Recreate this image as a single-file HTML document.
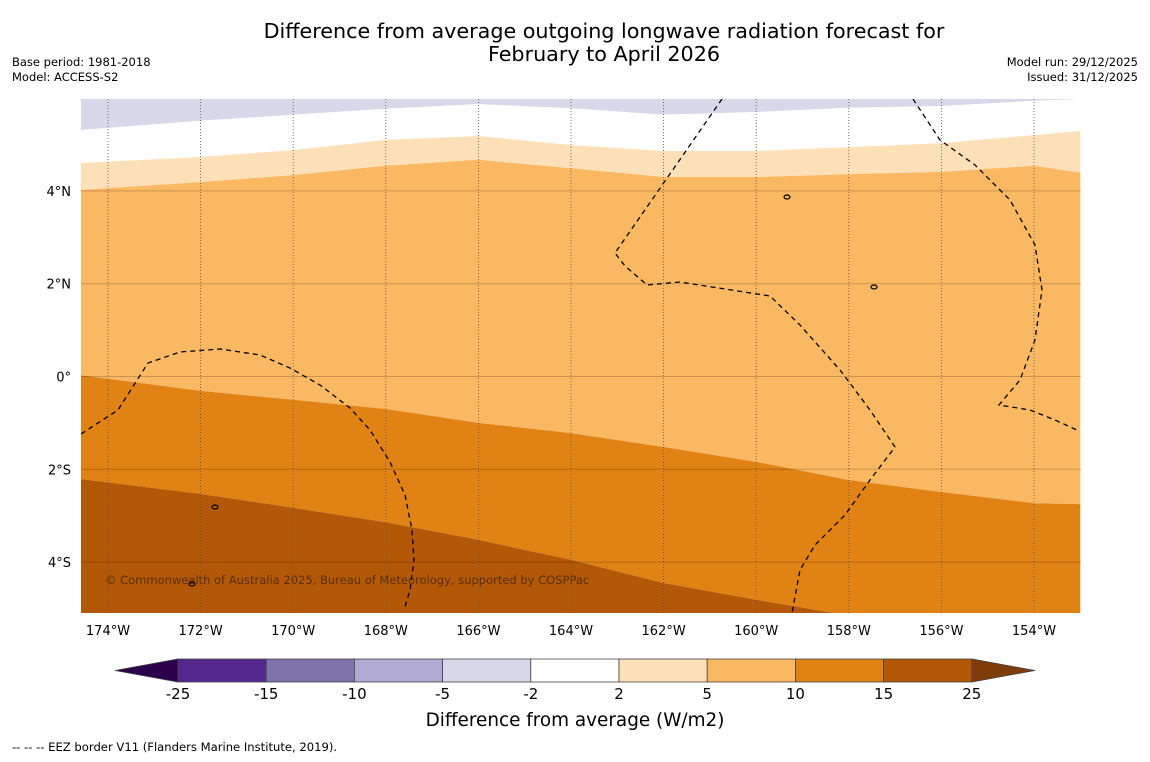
<!DOCTYPE html>
<html><head><meta charset="utf-8">
<style>
body{margin:0;background:#fff;font-family:"DejaVu Sans","Liberation Sans",sans-serif;}
svg text{font-family:"DejaVu Sans","Liberation Sans",sans-serif;}
</style></head>
<body>
<svg id="chart" width="1150" height="758" viewBox="0 0 1150 758" xmlns="http://www.w3.org/2000/svg">
<rect width="1150" height="758" fill="#fff"/>
<text x="604" y="38" font-size="20.7" text-anchor="middle" fill="#000">Difference from average outgoing longwave radiation forecast for</text>
<text x="604" y="61" font-size="20.7" text-anchor="middle" fill="#000">February to April 2026</text>
<text x="12" y="66" font-size="11.5">Base period: 1981-2018</text>
<text x="12" y="81" font-size="11.5">Model: ACCESS-S2</text>
<text x="1138" y="66" font-size="11.5" text-anchor="end">Model run: 29/12/2025</text>
<text x="1138" y="81" font-size="11.5" text-anchor="end">Issued: 31/12/2025</text>
<defs><clipPath id="mapclip"><rect x="81" y="99" width="1000" height="514"/></clipPath></defs>
<g id="map" clip-path="url(#mapclip)"></g>
<g id="axes"></g>
<g id="cbar"></g>
<text x="575" y="726" font-size="18.4" text-anchor="middle">Difference from average (W/m2)</text>
<text x="12" y="751" font-size="11.6">--  --  -- EEZ border V11 (Flanders Marine Institute, 2019).</text>
</svg>
<script>
const lons=[-174.6,-172,-170,-168,-166,-164,-162,-160,-158,-156,-154,-153];
const c_m2=[5.31,5.51,5.64,5.77,5.87,5.78,5.64,5.70,5.79,5.83,5.94,5.98];
const c_2=[4.60,4.73,4.88,5.10,5.18,4.99,4.86,4.86,4.94,5.03,5.20,5.29];
const c_5=[4.02,4.19,4.34,4.54,4.67,4.49,4.30,4.30,4.36,4.41,4.54,4.39];
const c_10=[0.03,-0.31,-0.50,-0.70,-1.00,-1.22,-1.52,-1.84,-2.23,-2.49,-2.73,-2.75];
const c_15=[-2.21,-2.53,-2.83,-3.14,-3.52,-3.95,-4.45,-4.81,-5.15,-5.4,-5.4,-5.4];
const bandColors=["#d8d8ea","#ffffff","#fde0b7","#fbb862","#e08214","#b35806"];
const cbLevels=["-25","-15","-10","-5","-2","2","5","10","15","25"];
const cbColors=["#54278f","#7f72ab","#b0a9d1","#d8d8ea","#ffffff","#fde0b7","#fbb862","#e08214","#b35806"];
const lonTicks=[-174,-172,-170,-168,-166,-164,-162,-160,-158,-156,-154];
const latTicks=[4,2,0,-2,-4];

const NS="http://www.w3.org/2000/svg";
const X=lon=>108+(lon+174)*46.3;
const Y=lat=>376.5-lat*46.4;
function mk(tag,attrs,parent){const e=document.createElementNS(NS,tag);for(const k in attrs)e.setAttribute(k,attrs[k]);parent.appendChild(e);return e;}
const map=document.getElementById('map');
const top_=lons.map(()=>6.5), bot=lons.map(()=>-6);
const bounds=[top_,c_m2,c_2,c_5,c_10,c_15,bot];
for(let b=0;b<6;b++){
  const up=bounds[b],dn=bounds[b+1];
  let d=lons.map((l,i)=>(i?'L':'M')+X(l).toFixed(1)+','+Y(up[i]).toFixed(1)).join('');
  for(let i=lons.length-1;i>=0;i--)d+='L'+X(lons[i]).toFixed(1)+','+Y(dn[i]).toFixed(1);
  const p=mk('path',{d:d+'Z',fill:bandColors[b]},map);
  
  
}
const cp=mk('text',{x:105,y:584,'font-size':11.5,fill:'#5a2e06'},map);
cp.textContent='© Commonwealth of Australia 2025, Bureau of Meteorology, supported by COSPPac';


lonTicks.forEach(l=>{
  const g=mk('line',{x1:X(l),x2:X(l),y1:99,y2:613,stroke:'#555','stroke-width':0.8,'stroke-dasharray':'1,2'},map);
  
  
});
latTicks.forEach(l=>{
  const g=mk('line',{x1:81,x2:1081,y1:Y(l),y2:Y(l),stroke:'#000','stroke-opacity':0.2,'stroke-width':1},map);
  
  
});
const eez=["M722,99 L615,253 L625,266 L647,285 L680,282 L770,296 L800,325 L840,370 L870,410 L895,447 L870,480 L845,515 L815,545 L800,570 L792,613",
"M913,99 L940,140 L975,165 L1010,200 L1035,245 L1042,290 L1035,340 L1020,380 L999,405 L1030,410 L1055,420 L1077,430",
"M81,434 L118,410 L148,363 L180,352 L220,349 L260,355 L290,368 L320,385 L350,408 L370,430 L390,462 L405,495 L412,530 L414,560 L410,590 L404,610"];
eez.forEach(d=>{const p=mk('path',{d:d,fill:'none',stroke:'#000','stroke-width':1.3,'stroke-dasharray':'5,4'},map);

});
[[787,197],[874,287],[215,507],[192,584]].forEach(c=>{const e=mk('ellipse',{cx:c[0],cy:c[1],rx:3,ry:2,fill:'none',stroke:'#000','stroke-width':1.2},map);

});
const ax=document.getElementById('axes');
lonTicks.forEach(l=>{const t=mk('text',{x:X(l),y:635,'font-size':13,'text-anchor':'middle'},ax);t.textContent=Math.abs(l)+'°W';

});
latTicks.forEach(l=>{const t=mk('text',{x:71,y:Y(l)+5,'font-size':13,'text-anchor':'end'},ax);t.textContent=l===0?'0°':Math.abs(l)+'°'+(l>0?'N':'S');

});
const cb=document.getElementById('cbar');
const cx0=178,cw=88.2,cy=659,ch=23;
const lt=mk('polygon',{points:`${cx0},${cy} ${cx0},${cy+ch} 115,${cy+ch/2}`,fill:'#2d004b',stroke:'#444','stroke-width':0.8},cb);


const re=cx0+cw*cbColors.length;
const rt=mk('polygon',{points:`${re},${cy} ${re},${cy+ch} 1035,${cy+ch/2}`,fill:'#7f3b08',stroke:'#444','stroke-width':0.8},cb);


cbColors.forEach((c,i)=>{const r=mk('rect',{x:cx0+i*cw,y:cy,width:cw,height:ch,fill:c,stroke:'#444','stroke-width':0.8},cb);

});
cbLevels.forEach((v,i)=>{const t=mk('text',{x:cx0+i*cw,y:699,'font-size':15,'text-anchor':'middle'},cb);t.textContent=v;

});
</script>
</body></html>
